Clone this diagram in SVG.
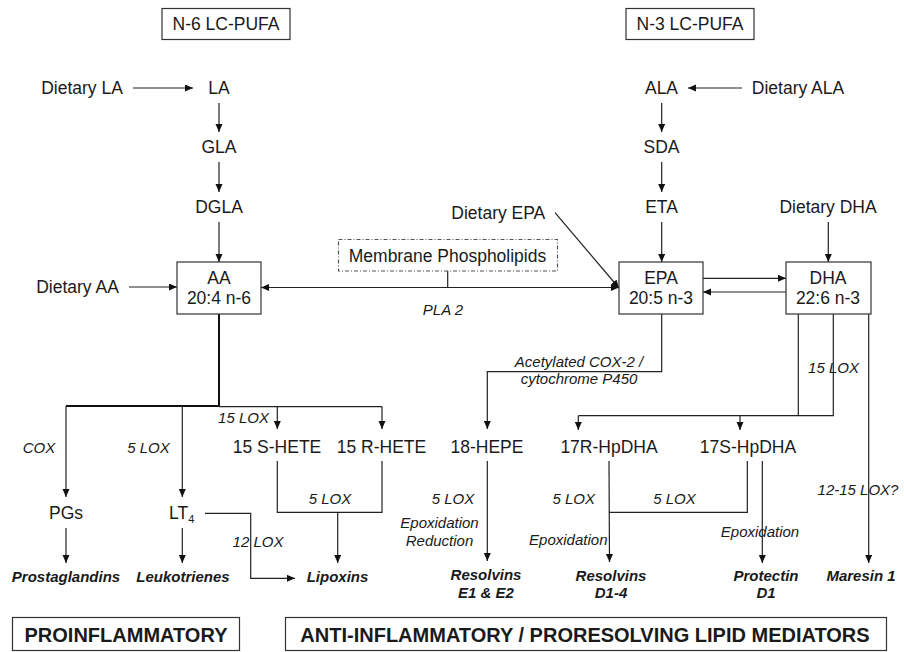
<svg xmlns="http://www.w3.org/2000/svg" width="904" height="652" viewBox="0 0 904 652">
<style>
.t{font-family:"Liberation Sans",Arial,sans-serif;font-size:17.5px;fill:#1a1a1a;text-anchor:middle}
.i{font-family:"Liberation Sans",Arial,sans-serif;font-size:15px;font-style:italic;fill:#1a1a1a;text-anchor:middle}
.bi{font-family:"Liberation Sans",Arial,sans-serif;font-size:15px;font-style:italic;font-weight:bold;fill:#1a1a1a;text-anchor:middle}
.b{font-family:"Liberation Sans",Arial,sans-serif;font-size:20px;font-weight:bold;fill:#1a1a1a;text-anchor:middle}
.box{fill:#fff;stroke:#333;stroke-width:1.2}
.dbox{fill:#fff;stroke:#555;stroke-width:1.2;stroke-dasharray:4 2 1 2}
.c{fill:none;stroke:#222;stroke-width:1.2}
.a{fill:none;stroke:#222;stroke-width:1.2;marker-end:url(#ar)}
.thick{fill:none;stroke:#111;stroke-width:2}
</style>
<defs>
<marker id="ar" markerUnits="userSpaceOnUse" markerWidth="9" markerHeight="8" refX="8" refY="3.5" orient="auto">
<path d="M0,0 L8,3.5 L0,7 z" fill="#111"/>
</marker>
<marker id="as" markerUnits="userSpaceOnUse" markerWidth="9" markerHeight="8" refX="0" refY="3.5" orient="auto">
<path d="M8,0 L0,3.5 L8,7 z" fill="#111"/>
</marker>
</defs>

<g id="connectors">
<line class="a" x1="133" y1="88" x2="193" y2="88"/>
<line class="a" x1="219" y1="103" x2="219" y2="132"/>
<line class="a" x1="219" y1="162" x2="219" y2="192"/>
<line class="a" x1="219" y1="222" x2="219" y2="262"/>
<line class="a" x1="129" y1="287" x2="177" y2="287"/>
<line class="a" x1="261" y1="287.5" x2="619" y2="287.5" marker-start="url(#as)"/>
<line class="c" x1="447.7" y1="271" x2="447.7" y2="287.5"/>
<line class="a" x1="555" y1="212.7" x2="619" y2="288"/>
<line class="a" x1="742" y1="88" x2="688" y2="88"/>
<line class="a" x1="661.7" y1="103" x2="661.7" y2="132"/>
<line class="a" x1="661.7" y1="162" x2="661.7" y2="192"/>
<line class="a" x1="661.7" y1="222" x2="661.7" y2="262"/>
<line class="a" x1="828.3" y1="222" x2="828.3" y2="262"/>
<line class="a" x1="703" y1="278.3" x2="786" y2="278.3"/>
<line class="a" x1="786" y1="292" x2="703" y2="292"/>
<line class="thick" x1="219" y1="314" x2="219" y2="407"/>
<line class="thick" x1="66" y1="406" x2="219" y2="406"/>
<line class="c" x1="219" y1="406.6" x2="382" y2="406.6"/>
<line class="a" x1="66" y1="406" x2="66" y2="497"/>
<line class="a" x1="182.3" y1="406" x2="182.3" y2="497"/>
<line class="a" x1="277.3" y1="406.6" x2="277.3" y2="429"/>
<line class="a" x1="382" y1="406.6" x2="382" y2="429"/>
<line class="a" x1="66" y1="528" x2="66" y2="563"/>
<line class="a" x1="182.3" y1="528" x2="182.3" y2="563"/>
<polyline class="a" points="205,513.3 250.7,513.3 250.7,578.3 295,578.3"/>
<polyline class="c" points="277.3,461 277.3,512.3 382,512.3 382,461"/>
<line class="a" x1="337.7" y1="512.3" x2="337.7" y2="563"/>
<polyline class="a" points="661.7,314 661.7,371.7 487.3,371.7 487.3,429"/>
<line class="a" x1="487.3" y1="461" x2="487.3" y2="561"/>
<line class="c" x1="798.3" y1="314" x2="798.3" y2="415.7"/>
<polyline class="c" points="833.3,314 833.3,415.7 578.3,415.7"/>
<line class="a" x1="578.3" y1="415.7" x2="578.3" y2="430"/>
<line class="a" x1="740" y1="415.7" x2="740" y2="430"/>
<line class="a" x1="868.7" y1="314" x2="868.7" y2="563"/>
<line class="a" x1="609" y1="461" x2="609.5" y2="562"/>
<polyline class="c" points="747.3,461 747.3,512.3 609,512.3"/>
<line class="a" x1="762.3" y1="461" x2="762.3" y2="563"/>
</g>

<g id="n6"><rect class="box" x="162" y="8.5" width="128" height="31"/><text class="t" x="226" y="30">N-6 LC-PUFA</text></g>
<g id="n3"><rect class="box" x="626" y="8.5" width="128" height="31"/><text class="t" x="690" y="30">N-3 LC-PUFA</text></g>

<g id="dietLA"><text class="t" x="82" y="94">Dietary LA</text></g>
<g id="LA"><text class="t" x="219" y="94">LA</text></g>
<g id="GLA"><text class="t" x="219" y="153">GLA</text></g>
<g id="DGLA"><text class="t" x="219" y="213">DGLA</text></g>
<g id="dietAA"><text class="t" x="77.5" y="293">Dietary AA</text></g>
<g id="AA"><rect class="box" x="177" y="262" width="84" height="52"/><text class="t" x="219" y="284">AA</text><text class="t" x="219" y="304">20:4 n-6</text></g>
<g id="membrane"><rect class="dbox" x="338.5" y="239.5" width="219" height="31.5"/><text class="t" x="447.5" y="262">Membrane Phospholipids</text></g>
<g id="pla2"><text class="i" x="443" y="315">PLA 2</text></g>
<g id="dietEPA"><text class="t" x="498.3" y="219">Dietary EPA</text></g>
<g id="ALA"><text class="t" x="661.5" y="94">ALA</text></g>
<g id="dietALA"><text class="t" x="798" y="94">Dietary ALA</text></g>
<g id="SDA"><text class="t" x="661.5" y="153">SDA</text></g>
<g id="ETA"><text class="t" x="661.5" y="213">ETA</text></g>
<g id="dietDHA"><text class="t" x="828" y="213">Dietary DHA</text></g>
<g id="EPA"><rect class="box" x="619" y="262" width="84" height="52"/><text class="t" x="661" y="284">EPA</text><text class="t" x="661" y="304">20:5 n-3</text></g>
<g id="DHA"><rect class="box" x="786" y="262" width="85" height="52"/><text class="t" x="828" y="284">DHA</text><text class="t" x="828" y="304">22:6 n-3</text></g>

<g id="labels">
<text class="i" x="833.5" y="373">15 LOX</text>
<text class="i" x="579" y="367">Acetylated COX-2 /</text>
<text class="i" x="579" y="384">cytochrome P450</text>
<text class="i" x="39" y="453">COX</text>
<text class="i" x="148.5" y="453">5 LOX</text>
<text class="i" x="243.5" y="423">15 LOX</text>
<text class="i" x="330" y="504">5 LOX</text>
<text class="i" x="258" y="547">12 LOX</text>
<text class="i" x="453" y="504">5 LOX</text>
<text class="i" x="439.5" y="528">Epoxidation</text>
<text class="i" x="439.5" y="546">Reduction</text>
<text class="i" x="573.7" y="504">5 LOX</text>
<text class="i" x="568.3" y="545">Epoxidation</text>
<text class="i" x="674.4" y="504">5 LOX</text>
<text class="i" x="760" y="537">Epoxidation</text>
<text class="i" x="858" y="495">12-15 LOX?</text>
</g>

<g id="sHETE"><text class="t" x="277" y="453">15 S-HETE</text></g>
<g id="rHETE"><text class="t" x="381.5" y="453">15 R-HETE</text></g>
<g id="HEPE"><text class="t" x="487" y="453">18-HEPE</text></g>
<g id="17R"><text class="t" x="609" y="452.5">17R-HpDHA</text></g>
<g id="17S"><text class="t" x="748" y="453">17S-HpDHA</text></g>
<g id="PGs"><text class="t" x="66" y="519">PGs</text></g>
<g id="LT4"><text class="t" x="169" y="519" style="text-anchor:start">LT<tspan font-size="11" dy="4">4</tspan></text></g>

<g id="prostaglandins"><text class="bi" x="66" y="582">Prostaglandins</text></g>
<g id="leukotrienes"><text class="bi" x="183" y="582">Leukotrienes</text></g>
<g id="lipoxins"><text class="bi" x="337.5" y="582">Lipoxins</text></g>
<g id="resolvinsE"><text class="bi" x="486" y="580">Resolvins</text><text class="bi" x="486" y="598">E1 &amp; E2</text></g>
<g id="resolvinsD"><text class="bi" x="611" y="581">Resolvins</text><text class="bi" x="611" y="598">D1-4</text></g>
<g id="protectin"><text class="bi" x="766" y="581">Protectin</text><text class="bi" x="766" y="598">D1</text></g>
<g id="maresin"><text class="bi" x="861" y="581">Maresin 1</text></g>

<g id="pro"><rect class="box" x="12.5" y="617.5" width="227" height="33"/><text class="b" x="126" y="642">PROINFLAMMATORY</text></g>
<g id="anti"><rect class="box" x="285.5" y="617.5" width="601" height="33"/><text class="b" x="585" y="642">ANTI-INFLAMMATORY / PRORESOLVING LIPID MEDIATORS</text></g>
</svg>
